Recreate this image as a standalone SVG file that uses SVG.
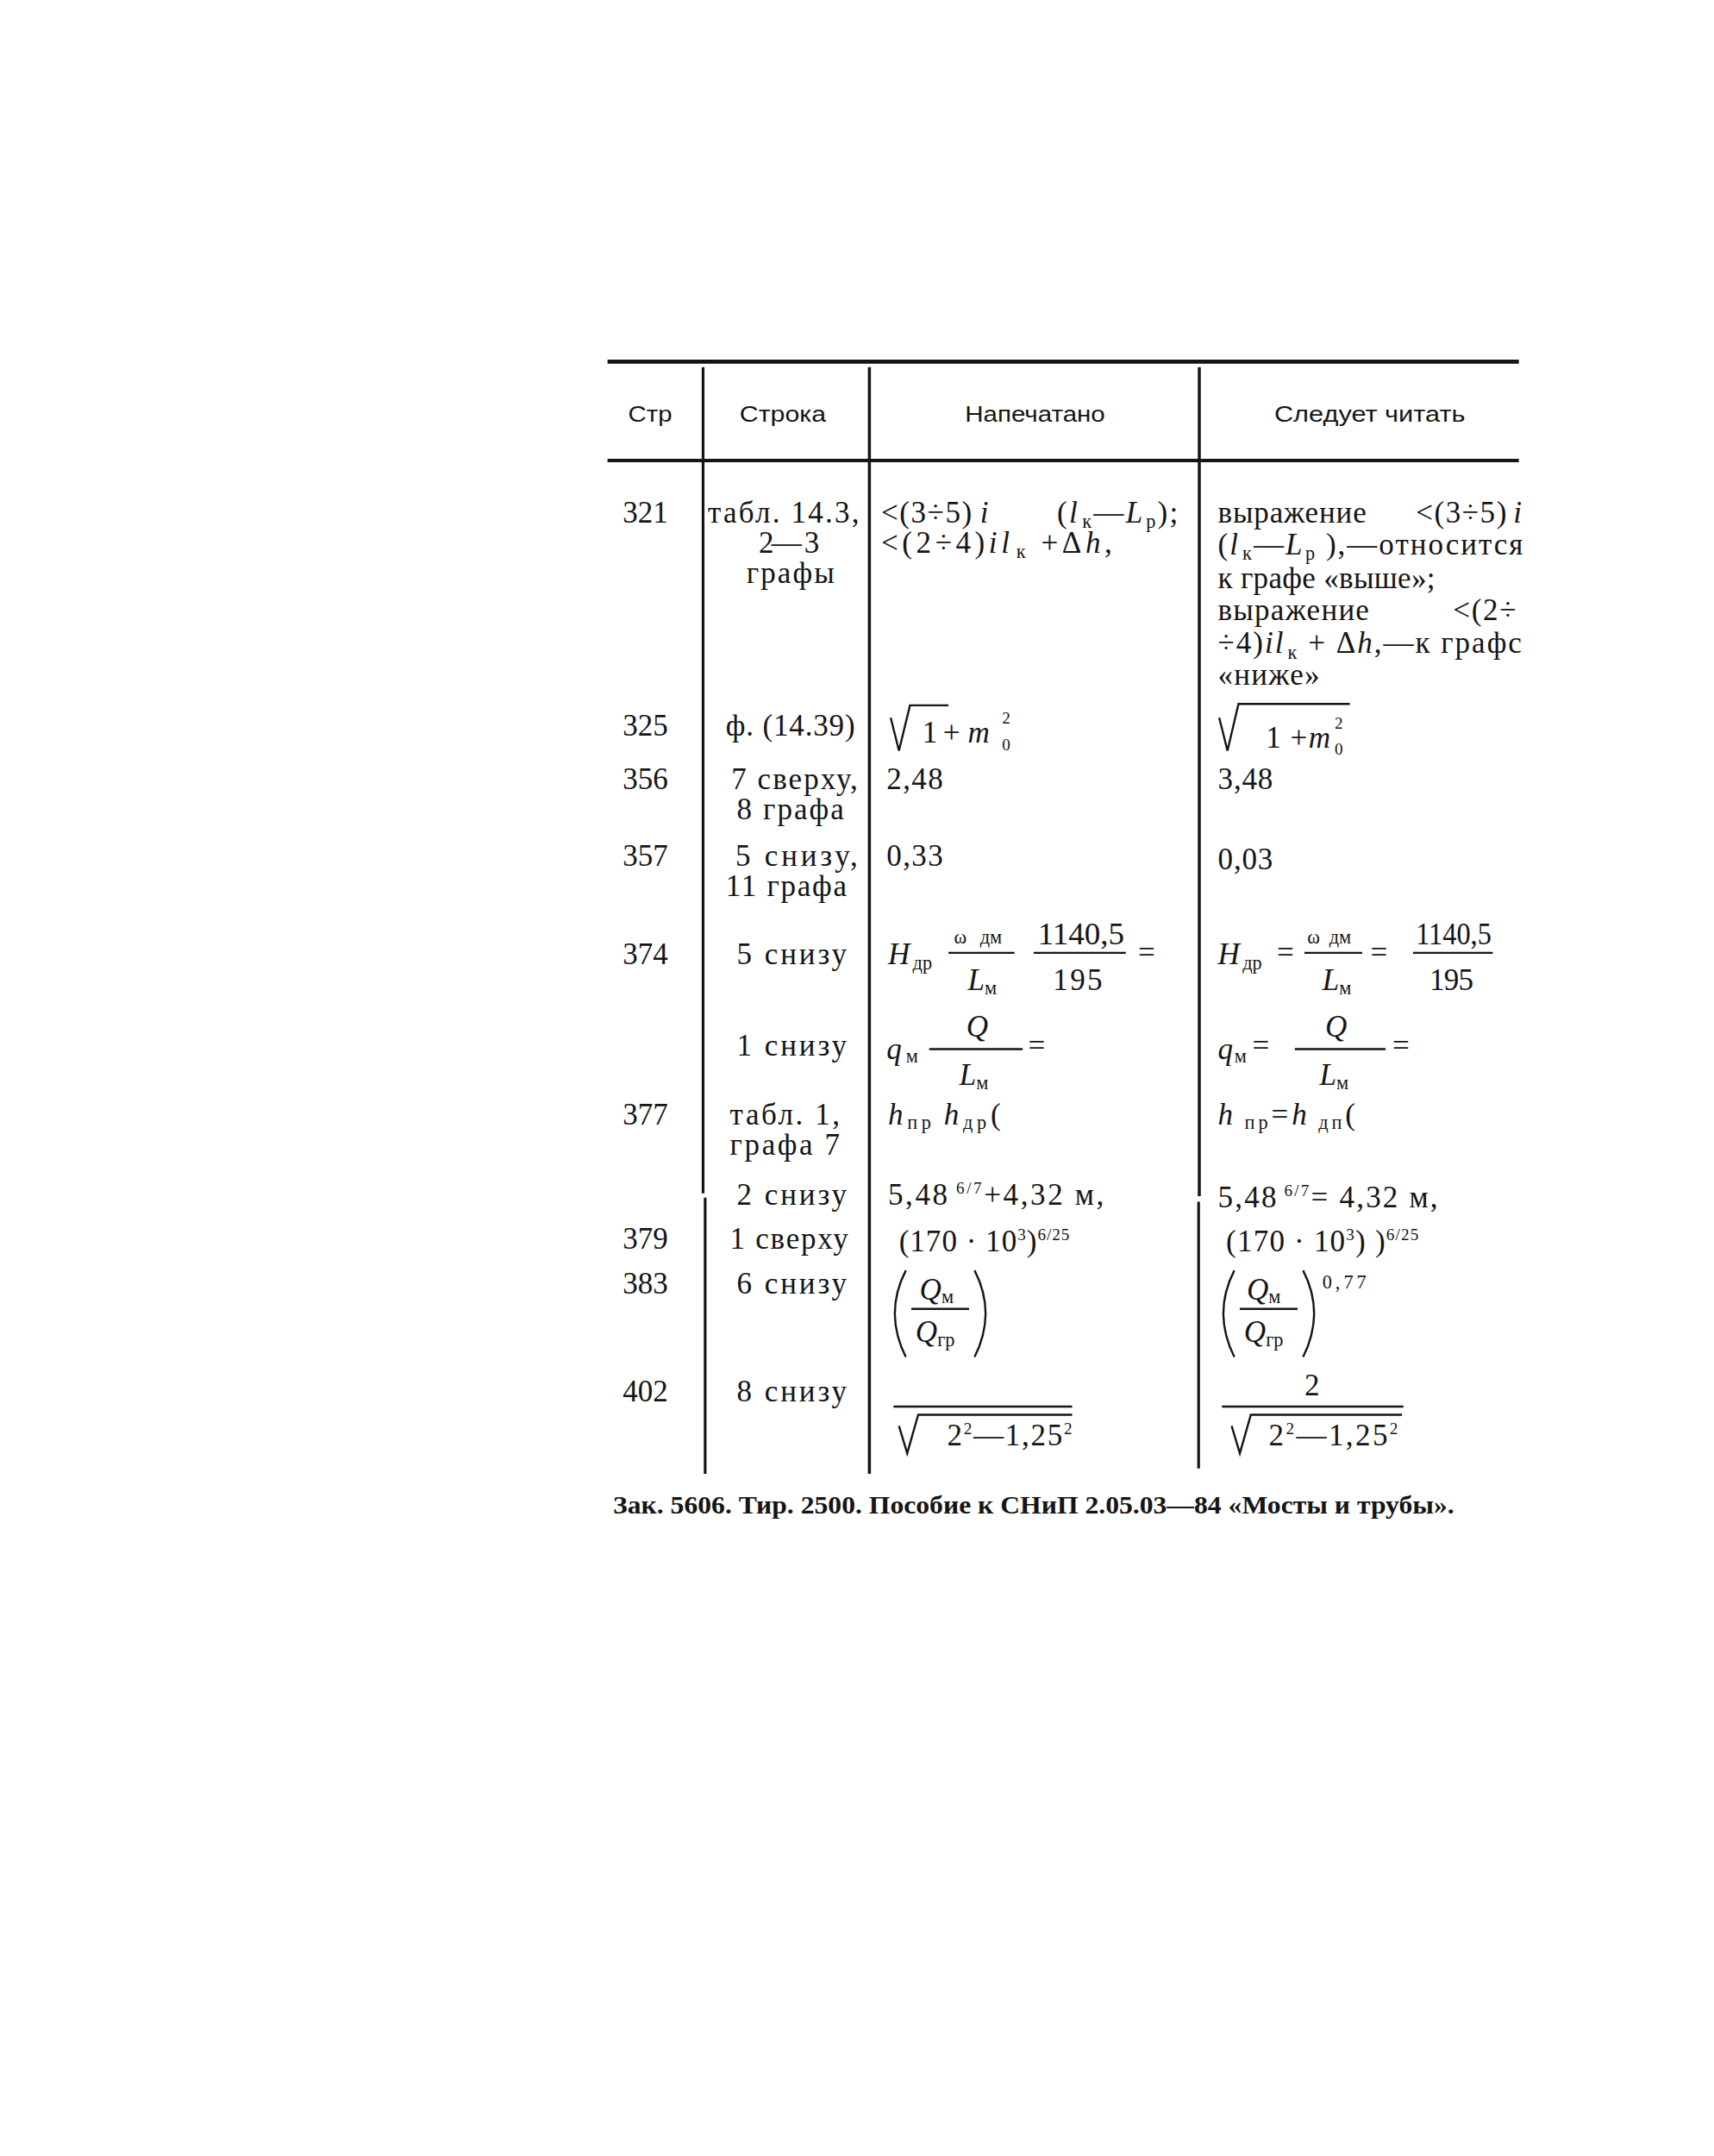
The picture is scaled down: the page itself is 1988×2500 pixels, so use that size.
<svg xmlns="http://www.w3.org/2000/svg" width="1988" height="2500" viewBox="0 0 1988 2500">
<style>
.t{font-family:"Liberation Serif","DejaVu Serif",serif;font-size:22px;fill:#151515}
.h{font-family:"Liberation Sans","DejaVu Sans",sans-serif;font-size:16px;fill:#151515}
.i{font-style:italic}
.s{font-size:14px}
.x{font-size:12px}
.ln{stroke:#151515;fill:none;stroke-width:1.5}
.rl{stroke:#151515;fill:none}
.ft{font-family:"Liberation Serif",serif;font-size:18px;font-weight:bold;fill:#151515}
</style>
<rect width="1988" height="2500" fill="#ffffff"/>
<g transform="scale(1.5943)">
<g id="rules">
<line class="rl" x1="442" y1="263" x2="1105" y2="263" stroke-width="3"/>
<line class="rl" x1="442" y1="335" x2="1105" y2="335" stroke-width="2.5"/>
<line class="rl" x1="511.5" y1="267" x2="511.5" y2="868" stroke-width="2"/>
<line class="rl" x1="513" y1="871" x2="513" y2="1072" stroke-width="2"/>
<line class="rl" x1="632.5" y1="267" x2="632.5" y2="1072" stroke-width="2.2"/>
<line class="rl" x1="872.5" y1="267" x2="872.5" y2="870" stroke-width="2.2"/>
<line class="rl" x1="872" y1="874" x2="872" y2="1068" stroke-width="2"/>
</g>
<g id="header">
<text class="h" x="457" y="307" textLength="32" lengthAdjust="spacingAndGlyphs">Стр</text>
<text class="h" x="538" y="307" textLength="63" lengthAdjust="spacingAndGlyphs">Строка</text>
<text class="h" x="702" y="307" textLength="102" lengthAdjust="spacingAndGlyphs">Напечатано</text>
<text class="h" x="927" y="307" textLength="139" lengthAdjust="spacingAndGlyphs">Следует читать</text>
</g>
<g id="row-321">
<text class="t" x="453" y="380" textLength="33">321</text>
<text class="t" x="515" y="380" textLength="110">табл. 14.3,</text>
<text class="t" x="552" y="402" textLength="44">2— 3</text>
<text class="t" x="543" y="424" textLength="64">графы</text>
<text class="t" x="641" y="380" textLength="66">&lt;(3÷5)</text>
<text class="t i" x="713" y="380">i</text>
<text class="t" x="769" y="380" textLength="88">(<tspan class="i">l</tspan><tspan class="s" dx="2" dy="4">к</tspan><tspan dy="-4">—</tspan><tspan class="i">L</tspan><tspan class="s" dx="1" dy="4">р</tspan><tspan dy="-4">);</tspan></text>
<text class="t" x="641" y="402" textLength="168">&lt;(2÷4)<tspan class="i">il</tspan><tspan class="s" dx="2" dy="4">к</tspan><tspan dy="-4"> +Δ</tspan><tspan class="i">h</tspan>,</text>
<text class="t" x="886" y="380" textLength="108">выражение</text>
<text class="t" x="1030" y="380" textLength="66">&lt;(3÷5)</text>
<text class="t i" x="1101" y="380">i</text>
<text class="t" x="886" y="403" textLength="222">(<tspan class="i">l</tspan><tspan class="s" dx="2" dy="4">к</tspan><tspan dy="-4">—</tspan><tspan class="i">L</tspan><tspan class="s" dx="1" dy="4">р</tspan><tspan dy="-4"> ),—относится</tspan></text>
<text class="t" x="886" y="428" textLength="158">к графе «выше»;</text>
<text class="t" x="886" y="451" textLength="110">выражение</text>
<text class="t" x="1057" y="451" textLength="46">&lt;(2÷</text>
<text class="t" x="886" y="475" textLength="221">÷4)<tspan class="i">il</tspan><tspan class="s" dx="2" dy="4">к</tspan><tspan dy="-4"> + Δ</tspan><tspan class="i">h</tspan>,—к графс</text>
<text class="t" x="886" y="498" textLength="74">«ниже»</text>
</g>
<g id="row-325">
<text class="t" x="453" y="535" textLength="33">325</text>
<text class="t" x="528" y="535" textLength="94">ф. (14.39)</text>
<path class="ln" d="M648 522 L654 546 L662 513 L690 513" stroke-width="2.2"/>
<text class="t" x="671" y="540">1</text>
<text class="t" x="686" y="540">+</text>
<text class="t i" x="704" y="540">m</text>
<text class="t x" x="729" y="526">2</text>
<text class="t x" x="729" y="546">0</text>
<path class="ln" d="M887 522 L893 546 L901 512 L982 512" stroke-width="2.2"/>
<text class="t" x="921" y="544" textLength="30">1+</text>
<text class="t i" x="952" y="544">m</text>
<text class="t x" x="971" y="530">2</text>
<text class="t x" x="971" y="549">0</text>
</g>
<g id="row-356">
<text class="t" x="453" y="574" textLength="33">356</text>
<text class="t" x="532" y="574" textLength="92">7 сверху,</text>
<text class="t" x="536" y="596" textLength="78">8 графа</text>
<text class="t" x="645" y="574" textLength="41">2,48</text>
<text class="t" x="886" y="574" textLength="40">3,48</text>
</g>
<g id="row-357">
<text class="t" x="453" y="630" textLength="33">357</text>
<text class="t" x="535" y="630" textLength="89">5 снизу,</text>
<text class="t" x="528" y="652" textLength="88">11 графа</text>
<text class="t" x="645" y="630" textLength="41">0,33</text>
<text class="t" x="886" y="632" textLength="40">0,03</text>
</g>
<g id="row-374">
<text class="t" x="453" y="701" textLength="33">374</text>
<text class="t" x="536" y="701" textLength="80">5 снизу</text>
<text class="t i" x="646" y="701">H</text>
<text class="t s" x="664" y="705">др</text>
<text class="t s" x="694" y="686">ω</text>
<text class="t s" x="713" y="686">дм</text>
<line class="ln" x1="690" y1="693" x2="738" y2="693"/>
<text class="t" x="704" y="720"><tspan class="i">L</tspan><tspan class="s" dy="3">м</tspan></text>
<text class="t" x="755" y="687" textLength="63" lengthAdjust="spacingAndGlyphs">1140,5</text>
<line class="ln" x1="752" y1="693" x2="819" y2="693"/>
<text class="t" x="766" y="720" textLength="36">195</text>
<text class="t" x="828" y="700">=</text>
<text class="t i" x="886" y="701">H</text>
<text class="t s" x="904" y="705">др</text>
<text class="t" x="929" y="700">=</text>
<text class="t s" x="951" y="686">ω</text>
<text class="t s" x="967" y="686">дм</text>
<line class="ln" x1="949" y1="693" x2="991" y2="693"/>
<text class="t" x="962" y="720"><tspan class="i">L</tspan><tspan class="s" dy="3">м</tspan></text>
<text class="t" x="997" y="700">=</text>
<text class="t" x="1030" y="687" textLength="55" lengthAdjust="spacingAndGlyphs">1140,5</text>
<line class="ln" x1="1028" y1="693" x2="1086" y2="693"/>
<text class="t" x="1040" y="720" textLength="32">195</text>
</g>
<g id="row-374b">
<text class="t" x="536" y="768" textLength="80">1 снизу</text>
<text class="t i" x="645" y="770">q</text>
<text class="t s" x="659" y="773">м</text>
<text class="t i" x="703" y="754">Q</text>
<line class="ln" x1="676" y1="763" x2="744" y2="763"/>
<text class="t" x="698" y="789"><tspan class="i">L</tspan><tspan class="s" dy="3">м</tspan></text>
<text class="t" x="748" y="768">=</text>
<text class="t i" x="886" y="770">q</text>
<text class="t s" x="898" y="773">м</text>
<text class="t" x="911" y="768">=</text>
<text class="t i" x="964" y="754">Q</text>
<line class="ln" x1="942" y1="763" x2="1008" y2="763"/>
<text class="t" x="960" y="789"><tspan class="i">L</tspan><tspan class="s" dy="3">м</tspan></text>
<text class="t" x="1013" y="768">=</text>
</g>
<g id="row-377">
<text class="t" x="453" y="818" textLength="33">377</text>
<text class="t" x="531" y="818" textLength="80">табл. 1,</text>
<text class="t" x="531" y="840" textLength="80">графа 7</text>
<text class="t" x="646" y="818" textLength="82"><tspan class="i">h</tspan><tspan class="s" dy="3">пр </tspan><tspan class="i" dy="-3">h</tspan><tspan class="s" dy="3">др</tspan><tspan dy="-3">(</tspan></text>
<text class="t" x="886" y="818" textLength="100"><tspan class="i">h</tspan><tspan class="s" dy="3"> пр</tspan><tspan dy="-3">=</tspan><tspan class="i">h</tspan><tspan class="s" dy="3"> дп</tspan><tspan dy="-3">(</tspan></text>
<text class="t" x="536" y="876" textLength="80">2 снизу</text>
<text class="t" x="646" y="876" textLength="157">5,48<tspan class="x" dy="-8"> 6/7</tspan><tspan dy="8">+4,32 м,</tspan></text>
<text class="t" x="886" y="878" textLength="160">5,48<tspan class="x" dy="-8"> 6/7</tspan><tspan dy="8">= 4,32  м,</tspan></text>
</g>
<g id="row-379">
<text class="t" x="453" y="908" textLength="33">379</text>
<text class="t" x="531" y="908" textLength="86">1 сверху</text>
<text class="t" x="654" y="910" textLength="124">(170 · 10<tspan class="x" dy="-8">3</tspan><tspan dy="8">)</tspan><tspan class="x" dy="-8">6/25</tspan></text>
<text class="t" x="892" y="910" textLength="140">(170 · 10<tspan class="x" dy="-8">3</tspan><tspan dy="8">) )</tspan><tspan class="x" dy="-8">6/25</tspan></text>
</g>
<g id="row-383">
<text class="t" x="453" y="941" textLength="33">383</text>
<text class="t" x="536" y="941" textLength="80">6 снизу</text>
<path class="ln" d="M659 924 Q643 955 659 987" stroke-width="1.8"/>
<text class="t" x="669" y="945"><tspan class="i">Q</tspan><tspan class="s" dy="3">м</tspan></text>
<line class="ln" x1="663" y1="952" x2="705" y2="952"/>
<text class="t" x="666" y="976"><tspan class="i">Q</tspan><tspan class="s" dy="3">гр</tspan></text>
<path class="ln" d="M709 924 Q725 955 709 987" stroke-width="1.8"/>
<path class="ln" d="M898 924 Q882 955 898 987" stroke-width="1.8"/>
<text class="t" x="907" y="945"><tspan class="i">Q</tspan><tspan class="s" dy="3">м</tspan></text>
<line class="ln" x1="902" y1="952" x2="944" y2="952"/>
<text class="t" x="905" y="976"><tspan class="i">Q</tspan><tspan class="s" dy="3">гр</tspan></text>
<path class="ln" d="M948 924 Q964 955 948 987" stroke-width="1.8"/>
<text class="t s" x="962" y="937" textLength="32">0,77</text>
</g>
<g id="row-402">
<text class="t" x="453" y="1019" textLength="33">402</text>
<text class="t" x="536" y="1019" textLength="80">8 снизу</text>
<line class="ln" x1="650" y1="1023" x2="780" y2="1023"/>
<path class="ln" d="M654 1037 L660 1057 L668 1029 L780 1029" stroke-width="2.2"/>
<text class="t" x="689" y="1051" textLength="91">2<tspan class="x" dy="-8">2</tspan><tspan dy="8">—1,25</tspan><tspan class="x" dy="-8">2</tspan></text>
<text class="t" x="949" y="1015">2</text>
<line class="ln" x1="889" y1="1023" x2="1021" y2="1023"/>
<path class="ln" d="M896 1037 L902 1057 L910 1029 L1020 1029" stroke-width="2.2"/>
<text class="t" x="923" y="1051" textLength="94">2<tspan class="x" dy="-8">2</tspan><tspan dy="8">—1,25</tspan><tspan class="x" dy="-8">2</tspan></text>
</g>
<g id="footer">
<text class="ft" x="446" y="1101" textLength="612" lengthAdjust="spacingAndGlyphs">Зак. 5606. Тир. 2500. Пособие к СНиП 2.05.03—84 «Мосты и трубы».</text>
</g>
</g>
</svg>
